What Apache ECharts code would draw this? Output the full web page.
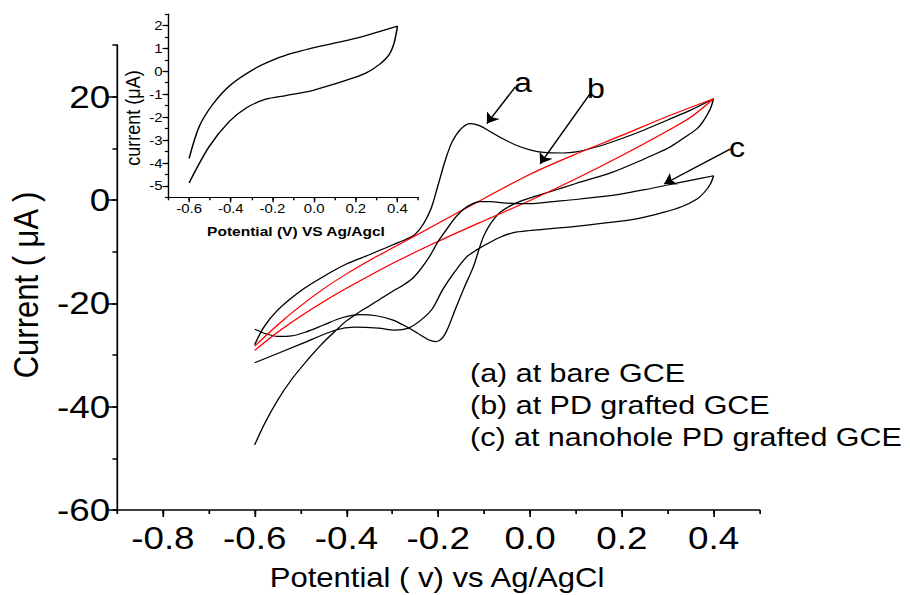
<!DOCTYPE html>
<html><head><meta charset="utf-8">
<script src="https://cdn.jsdelivr.net/npm/echarts@6/dist/echarts.min.js"></script>
<style>
html,body{margin:0;padding:0;background:#fff;overflow:hidden}
#wrap{width:910px;height:595px;overflow:hidden;position:relative}
#chart{height:595px;transform-origin:0 0;position:absolute;left:0;top:0}
</style></head><body><div id="wrap"><div id="chart"></div></div>
<script>
// ---------- data (potential V, current µA) ----------
const curveA = [ // bare GCE
 [-0.6,-28.0],[-0.58,-24.6],[-0.55,-21.3],[-0.5,-17.6],[-0.45,-14.8],[-0.4,-12.4],[-0.35,-10.6],
 [-0.3,-8.7],[-0.27,-7.6],[-0.25,-6.6],[-0.232,-4.6],[-0.215,-1.5],[-0.2,3.0],[-0.185,7.6],
 [-0.17,11.2],[-0.15,13.8],[-0.13,14.8],[-0.11,14.4],[-0.09,13.4],[-0.06,11.9],[-0.03,10.6],
 [0.0,9.7],[0.03,9.2],[0.07,9.1],[0.1,9.3],[0.15,10.4],[0.2,11.9],[0.25,13.6],[0.3,15.5],
 [0.35,17.4],[0.4,19.6],
 [0.393,17.7],[0.38,15.6],[0.364,13.8],[0.33,11.7],[0.3,10.0],[0.25,8.0],[0.18,5.4],[0.1,3.2],
 [0.04,1.5],[0.0,0.4],[-0.036,-0.8],[-0.07,-2.8],[-0.1,-6.8],[-0.123,-12.8],[-0.145,-17.3],
 [-0.163,-21.2],[-0.178,-24.6],[-0.19,-26.6],[-0.205,-27.4],[-0.22,-27.1],[-0.245,-25.8],
 [-0.272,-24.4],[-0.3,-23.2],[-0.335,-22.4],[-0.37,-22.2],[-0.41,-22.8],[-0.45,-24.2],
 [-0.49,-25.6],[-0.52,-26.3],[-0.55,-26.4],[-0.575,-25.9],[-0.6,-25.0]
];
const curveB = [ // PD grafted GCE
 [-0.6,-28.3],[-0.55,-24.2],[-0.5,-20.5],[-0.45,-17.2],[-0.4,-14.3],[-0.35,-11.7],[-0.3,-9.3],
 [-0.2,-4.5],[-0.1,0.3],[0.0,5.0],[0.1,8.9],[0.2,12.5],[0.3,16.2],[0.4,19.6],
 [0.35,16.0],[0.3,13.4],[0.2,8.6],[0.1,4.1],[0.0,-0.1],[-0.1,-4.0],[-0.2,-8.0],[-0.3,-12.3],
 [-0.4,-17.1],[-0.45,-19.7],[-0.5,-22.5],[-0.55,-25.6],[-0.6,-29.1]
];
const curveC = [ // nanohole PD grafted GCE
 [-0.6,-47.4],[-0.578,-43.2],[-0.549,-38.6],[-0.52,-34.8],[-0.49,-31.5],[-0.455,-28.0],
 [-0.425,-25.4],[-0.4,-23.4],[-0.374,-21.8],[-0.35,-20.5],[-0.327,-19.2],[-0.3,-17.7],
 [-0.275,-16.4],[-0.254,-15.0],[-0.235,-13.0],[-0.218,-10.8],[-0.2,-8.0],[-0.181,-5.6],
 [-0.163,-3.4],[-0.145,-1.8],[-0.125,-0.7],[-0.109,-0.3],[-0.085,-0.3],[-0.065,-0.5],
 [-0.03,-0.7],[0.0,-0.7],[0.05,-0.3],[0.1,0.1],[0.15,0.6],[0.2,1.2],[0.25,2.0],[0.3,2.9],
 [0.35,3.8],[0.4,4.7],
 [0.393,3.1],[0.38,1.5],[0.364,0.2],[0.33,-1.3],[0.29,-2.4],[0.24,-3.5],[0.18,-4.3],[0.1,-5.1],
 [0.04,-5.6],[0.0,-5.9],[-0.036,-6.3],[-0.065,-7.2],[-0.094,-8.5],[-0.115,-9.6],[-0.138,-11.0],
 [-0.165,-14.0],[-0.19,-17.3],[-0.214,-21.2],[-0.24,-23.4],[-0.265,-24.8],[-0.294,-25.2],
 [-0.33,-24.8],[-0.382,-24.6],[-0.425,-25.2],[-0.5,-27.9],[-0.6,-31.5]
];
const insetCurve = [
 [-0.6,-3.8],[-0.552,-2.42],[-0.488,-1.46],[-0.4,-0.59],[-0.28,0.14],[-0.184,0.54],[-0.1,0.8],
 [-0.024,0.98],[0.12,1.27],[0.248,1.56],[0.4,1.97],
 [0.384,1.24],[0.36,0.73],[0.312,0.29],[0.248,-0.08],[0.184,-0.30],[0.1,-0.55],[-0.008,-0.84],
 [-0.136,-1.06],[-0.232,-1.22],[-0.328,-1.61],[-0.408,-2.20],[-0.504,-3.29],[-0.6,-4.87]
];
// annotation arrows (data coords: from, to)
const arrowA = [[-0.032,21.9],[-0.094,14.8]];
const arrowB = [[0.131,20.6],[0.022,7.0]];
const arrowC = [[0.437,9.9],[0.292,3.1]];
// tick labels
const xMajor = [-0.8,-0.6,-0.4,-0.2,0.0,0.2,0.4];
const yMajor = [-60,-40,-20,0,20];
const insetXMajor = [-0.6,-0.4,-0.2,0.0,0.2,0.4];
const insetYMajor = [-5,-4,-3,-2,-1,0,1,2];
const legendLines = ['(a) at bare GCE','(b) at PD grafted GCE','(c) at nanohole PD grafted GCE'];
const curveLetters = ['a','b','c'];

// ---------- layout ----------
const SX = 1.15;               // horizontal stretch of the original figure
const W = 910 / SX;
const el = document.getElementById('chart');
el.style.width = W + 'px';
el.style.transform = 'scaleX(' + SX + ')';
const X = px => px / SX;
const FONT = 'Liberation Sans, Arial, sans-serif';

function minorAxis(grid, min, max, interval, len, lw, pos) {
  return {type:'value', gridIndex:grid, min:min, max:max, interval:interval, position:pos,
    axisLine:{show:true, onZero:false, lineStyle:{color:'#000', width:lw}},
    axisTick:{show:true, inside:false, length:len, lineStyle:{color:'#000', width:lw}},
    axisLabel:{show:false}, splitLine:{show:false}};
}
function majorAxis(grid, min, max, interval, vals, len, lw, pos, fs, margin, fmt) {
  return {type:'value', gridIndex:grid, min:min, max:max, interval:interval, position:pos,
    axisLine:{show:false, onZero:false},
    axisTick:{show:true, inside:false, length:len, customValues:vals, lineStyle:{color:'#000', width:lw}},
    axisLabel:{show:true, customValues:vals, formatter:fmt, fontSize:fs, margin:margin,
      color:'#000', fontFamily:FONT},
    splitLine:{show:false}};
}
const fmt1 = v => (Math.abs(v) < 1e-9 ? 0 : v).toFixed(1);
const fmt0 = v => String(Math.round(v));

function arrowLine(a) {
  return {silent:true, symbol:['none','arrow'], symbolSize:10, label:{show:false},
    lineStyle:{type:'solid', color:'#000', width:1.3},
    data:[[{coord:a[0]},{coord:a[1]}]], animation:false};
}

const chart = echarts.init(el, null, {renderer:'svg'});
chart.setOption({
  animation:false,
  backgroundColor:'#fff',
  grid:[
    {left:X(117), top:45, width:X(759.5-117), height:465, containLabel:false},
    {left:X(168.3), top:14, width:X(250), height:183.3, containLabel:false}
  ],
  xAxis:[
    minorAxis(0,-0.9,0.5,0.1,4,1.5,'bottom'),
    majorAxis(0,-0.9,0.5,0.1,xMajor,7,1.5,'bottom',32,12,fmt1),
    minorAxis(1,-0.7,0.5,0.1,3,1.2,'bottom'),
    majorAxis(1,-0.7,0.5,0.1,insetXMajor,5,1.2,'bottom',13,5,fmt1)
  ],
  yAxis:[
    minorAxis(0,-60,30,10,4,1.5,'left'),
    majorAxis(0,-60,30,10,yMajor,8,1.5,'left',32,6,fmt0),
    minorAxis(1,-5.5,2.5,0.5,3,1.2,'left'),
    majorAxis(1,-5.5,2.5,0.5,insetYMajor,5,1.2,'left',13,5,fmt0)
  ],
  series:[
    {name:'a', type:'line', xAxisIndex:0, yAxisIndex:0, data:curveA, showSymbol:false, symbol:'none',
      smooth:0.3, lineStyle:{color:'#000', width:1.2}, markLine:arrowLine(arrowA)},
    {name:'b', type:'line', xAxisIndex:0, yAxisIndex:0, data:curveB, showSymbol:false, symbol:'none',
      smooth:0.3, lineStyle:{color:'#ff0000', width:1.2}, markLine:arrowLine(arrowB)},
    {name:'c', type:'line', xAxisIndex:0, yAxisIndex:0, data:curveC, showSymbol:false, symbol:'none',
      smooth:0.3, lineStyle:{color:'#000', width:1.2}, markLine:arrowLine(arrowC)},
    {name:'inset', type:'line', xAxisIndex:2, yAxisIndex:2, data:insetCurve, showSymbol:false, symbol:'none',
      smooth:0.3, lineStyle:{color:'#000', width:1.3}}
  ],
  graphic:[
    {type:'text', x:X(437), y:578, style:{text:'Potential ( v) vs Ag/AgCl', font:'27px '+FONT,
      fill:'#000', textAlign:'center', textVerticalAlign:'middle'}},
    {type:'text', x:X(26), y:285, rotation:Math.PI/2, style:{text:'Current ( μA )', font:'31px '+FONT,
      fill:'#000', textAlign:'center', textVerticalAlign:'middle'}},
    {type:'text', x:X(296), y:231, style:{text:'Potential (V) VS Ag/Agcl', font:'bold 13.5px '+FONT,
      fill:'#000', textAlign:'center', textVerticalAlign:'middle'}},
    {type:'text', x:X(133), y:118, rotation:Math.PI/2, style:{text:'current (μA)', font:'18px '+FONT,
      fill:'#000', textAlign:'center', textVerticalAlign:'middle'}},
    {type:'text', x:X(523), y:82, style:{text:curveLetters[0], font:'28px '+FONT, fill:'#000',
      textAlign:'center', textVerticalAlign:'middle'}},
    {type:'text', x:X(596), y:88, style:{text:curveLetters[1], font:'28px '+FONT, fill:'#000',
      textAlign:'center', textVerticalAlign:'middle'}},
    {type:'text', x:X(737), y:147, style:{text:curveLetters[2], font:'28px '+FONT, fill:'#000',
      textAlign:'center', textVerticalAlign:'middle'}},
    {type:'text', x:X(470), y:373, style:{text:legendLines[0], font:'26.5px '+FONT, fill:'#000',
      textAlign:'left', textVerticalAlign:'middle'}},
    {type:'text', x:X(470), y:405, style:{text:legendLines[1], font:'26.5px '+FONT, fill:'#000',
      textAlign:'left', textVerticalAlign:'middle'}},
    {type:'text', x:X(470), y:437, style:{text:legendLines[2], font:'26.5px '+FONT, fill:'#000',
      textAlign:'left', textVerticalAlign:'middle'}}
  ]
});
</script>
</body></html>
